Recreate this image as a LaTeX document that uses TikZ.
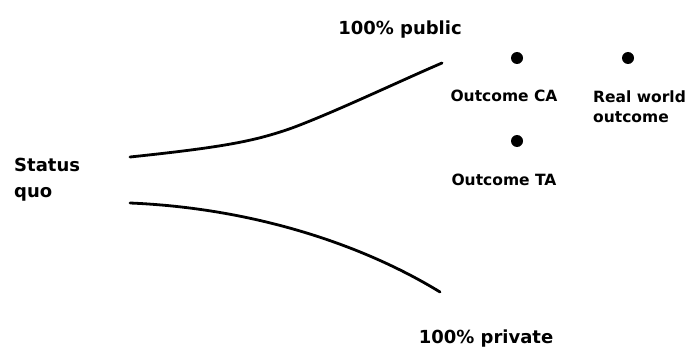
\documentclass[tikz,border=0pt]{standalone}
\usepackage{fontspec}
\setmainfont{DejaVu Sans}
\begin{document}
\begin{tikzpicture}[x=1pt,y=-1pt,
  lbl/.style={font=\bfseries\fontsize{18}{26}\selectfont, inner sep=0pt},
  outlbl/.style={font=\bfseries\fontsize{15.5}{20}\selectfont, inner sep=0pt},
  branch/.style={line width=2.8pt, line cap=round},
  dotmark/.style={circle, fill=black, inner sep=0pt, minimum size=12pt}]
\useasboundingbox (0,0) rectangle (691,353);
% labels
\node[lbl, align=left, anchor=west] (sq) at (14,180) {Status\\quo};
\node[lbl, anchor=base] (pub) at (400,35) {100\% public};
\node[lbl, anchor=base] (priv) at (486,343) {100\% private};
% outcome dots
\node[dotmark] (dca) at (517,58) {};
\node[dotmark] (drw) at (628,58) {};
\node[dotmark] (dta) at (517,141) {};
\node[outlbl, anchor=base] (ca) at (504,102) {Outcome CA};
\node[outlbl, anchor=base] (ta) at (504,185) {Outcome TA};
\node[outlbl, anchor=base west, align=left] (rw) at (593,122) {Real world\\outcome};
% branch end points
\coordinate (u0) at (130,157);
\coordinate (u1) at (292,128);
\coordinate (u2) at (442,63);
\coordinate (l0) at (130,203);
\coordinate (l1) at (440,292);
\draw[branch] (u0) .. controls (225,147) and (255,141) .. (u1)
              .. controls (335,112) and (400,81) .. (u2);
\draw[branch] (l0) .. controls (250,208) and (360,243) .. (l1);
\end{tikzpicture}
\end{document}
